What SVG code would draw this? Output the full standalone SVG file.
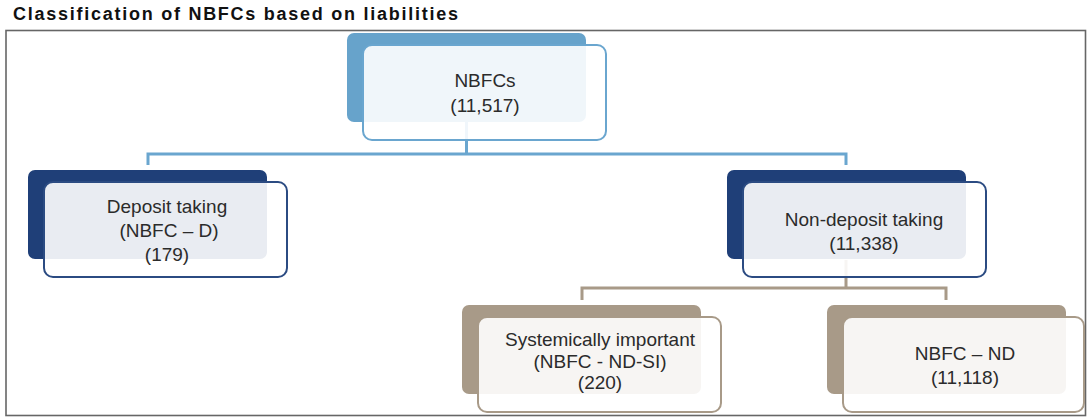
<svg xmlns="http://www.w3.org/2000/svg" width="1089" height="419" viewBox="0 0 1089 419">
<style>
.t{font-family:"Liberation Sans",Arial,sans-serif;font-size:19px;fill:#2b2b2b;text-anchor:middle}
.title{font-family:"Liberation Sans",Arial,sans-serif;font-size:18px;font-weight:bold;fill:#111}
.front{fill:#fff;fill-opacity:0.9;stroke-width:2}
.blue .back{fill:#67a3cb}.blue .front{stroke:#6aa6cf}
.navy .back{fill:#1f3f78}.navy .front{stroke:#2b4b82}
.brown .back{fill:#a89a88}.brown .front{stroke:#a89a88}
</style>
<rect width="1089" height="419" fill="#fff"/>
<text class="title" x="13" y="20" textLength="445">Classification of NBFCs based on liabilities</text>
<rect x="6" y="30.5" width="1079.5" height="385" fill="none" stroke="#666" stroke-width="1.6"/>
<g id="connectors" fill="none" stroke-width="3">
<path d="M466.5,122V154M148,165V154H846V165" stroke="#6aa6cf"/>
<path d="M846,260V288M582,300V288H946V300" stroke="#a89a88"/>
</g>
<g id="nbfcs" class="blue">
<rect class="back" x="347" y="33" width="239" height="89" rx="7"/>
<rect class="front" x="363" y="45" width="243" height="95" rx="9"/>
<text class="t" x="485" y="87">NBFCs</text>
<text class="t" x="485" y="112">(11,517)</text>
</g>
<g id="deposit" class="navy">
<rect class="back" x="28" y="170" width="239" height="89" rx="7"/>
<rect class="front" x="44" y="182" width="243" height="95" rx="9"/>
<text class="t" x="167" y="213">Deposit taking</text>
<text class="t" x="169" y="237">(NBFC – D)</text>
<text class="t" x="167" y="261">(179)</text>
</g>
<g id="nondeposit" class="navy">
<rect class="back" x="727" y="170" width="239" height="89" rx="7"/>
<rect class="front" x="743" y="182" width="243" height="95" rx="9"/>
<text class="t" x="864" y="226">Non-deposit taking</text>
<text class="t" x="864" y="250">(11,338)</text>
</g>
<g id="si" class="brown">
<rect class="back" x="462" y="305" width="239" height="89" rx="7"/>
<rect class="front" x="478" y="317" width="243" height="95" rx="9"/>
<text class="t" x="600" y="346">Systemically important</text>
<text class="t" x="600" y="368">(NBFC - ND-SI)</text>
<text class="t" x="600" y="389">(220)</text>
</g>
<g id="nd" class="brown">
<rect class="back" x="827" y="305" width="239" height="89" rx="7"/>
<rect class="front" x="843" y="317" width="241" height="95" rx="9"/>
<text class="t" x="965" y="360">NBFC – ND</text>
<text class="t" x="965" y="384">(11,118)</text>
</g>
</svg>
